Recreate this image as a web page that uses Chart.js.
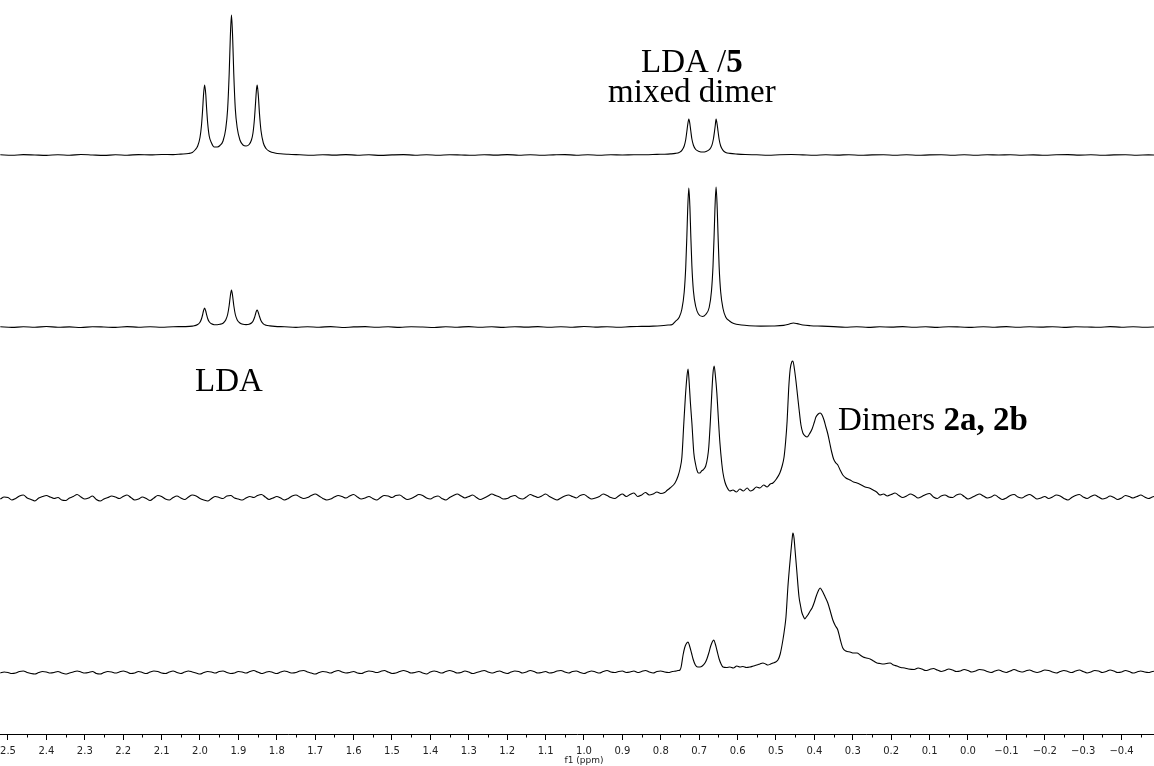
<!DOCTYPE html>
<html lang="en">
<head>
	<meta charset="UTF-8">
	<title>1H NMR stack - LDA / 5</title>
	<script src="https://cdn.jsdelivr.net/npm/chart.js"></script>
	<style>
		html, body { margin: 0; padding: 0; background: #fff; }
		#wrap { width: 1154px; height: 766px; }
	</style>
</head>
<body>
<div id="wrap">
	<canvas id="nmr" width="1154" height="766"></canvas>
</div>

<script>
// ---------------- spectra: [shift in ppm, intensity above own baseline] ----------------

// top trace: LDA triplet + small mixed-dimer doublet
const specTop = [
	[2.52,0.2],[2.49,-0.3],[2.46,0.4],[2.43,0],[2.40,-0.4],[2.37,0.3],[2.34,-0.2],[2.31,0.5],[2.28,0],[2.25,-0.4],
	[2.22,0.2],[2.19,-0.2],[2.16,0.4],[2.13,0.1],[2.10,0.5],[2.07,0.4],
	[2.05,0.9],[2.03,1.5],[2.02,2.5],[2.013,5],[2.006,9],[2.0,17.5],[1.996,30],[1.993,46],[1.991,59],[1.988,70],
	[1.985,61],[1.983,48],[1.98,32],[1.976,19],[1.97,12],[1.963,8],[1.955,8],[1.948,9.5],[1.94,14],[1.933,26],
	[1.928,46],[1.924,81],[1.921,118],[1.918,140],[1.915,118],[1.912,81],[1.908,46],[1.903,27],[1.896,15],[1.888,10],
	[1.88,9],[1.872,10.5],[1.866,15],[1.862,22],[1.858,37],[1.855,54],[1.853,65],[1.851,70],[1.848,59],[1.845,41],
	[1.841,24],[1.835,12],[1.828,6.5],[1.818,3.5],[1.805,2],[1.79,1.2],[1.77,0.7],
	[1.74,0.2],[1.71,-0.3],[1.68,0.3],[1.65,-0.1],[1.62,0.4],[1.59,-0.2],[1.56,0.2],[1.53,-0.4],[1.50,0.1],[1.47,0.4],
	[1.44,-0.2],[1.41,0.2],[1.38,-0.3],[1.35,0.3],[1.32,0],[1.29,-0.3],[1.26,0.3],[1.23,-0.1],[1.20,0.4],[1.17,-0.2],
	[1.14,0.2],[1.11,-0.3],[1.08,0.1],[1.05,0.4],[1.02,-0.2],[0.99,0.2],[0.96,-0.3],[0.93,0.3],[0.90,0],[0.87,0.3],
	[0.84,0.2],[0.81,0.6],[0.79,0.8],
	[0.775,1.1],[0.762,1.6],[0.752,2.6],[0.745,4.7],[0.739,9],[0.735,15.5],[0.732,24],[0.73,30],[0.727,36],[0.724,30.5],
	[0.722,24.5],[0.719,16],[0.715,9.8],[0.709,5.5],[0.7,3.6],[0.691,3],[0.682,3.6],[0.673,5.6],[0.667,9.6],[0.663,16],
	[0.66,24],[0.658,30],[0.656,36],[0.653,30],[0.651,24],[0.648,15.5],[0.644,9],[0.638,4.7],[0.631,2.6],[0.62,1.6],
	[0.60,0.9],[0.58,0.5],
	[0.55,0.2],[0.52,-0.2],[0.49,0.3],[0.46,0.5],[0.43,0.1],[0.40,-0.3],[0.37,0.2],[0.34,-0.1],[0.31,0.3],[0.28,-0.3],
	[0.25,0.1],[0.22,0.3],[0.19,-0.2],[0.16,0.2],[0.13,-0.3],[0.10,0.1],[0.07,0.3],[0.04,-0.2],[0.01,0.2],[-0.02,-0.3],
	[-0.05,0.2],[-0.08,0],[-0.11,0.3],[-0.14,-0.2],[-0.17,0.1],[-0.20,-0.3],[-0.23,0.2],[-0.26,0.4],[-0.29,-0.1],[-0.32,0.2],
	[-0.35,-0.3],[-0.38,0.1],[-0.41,0.3],[-0.44,-0.2],[-0.47,0.1],[-0.49,0]
];

// second trace: mostly mixed dimer
const specSecond = [
	[2.52,0.3],[2.49,-0.4],[2.46,0.2],[2.43,-0.2],[2.40,0.5],[2.37,-0.3],[2.34,0.1],[2.31,-0.5],[2.28,0.3],[2.25,0],
	[2.22,-0.4],[2.19,0.4],[2.16,-0.2],[2.13,0.2],[2.10,-0.3],[2.07,0.3],[2.04,0.4],
	[2.02,0.9],[2.006,2.5],[2.0,4.8],[1.996,8.2],[1.993,12.5],[1.991,16],[1.988,19],[1.985,16],[1.983,12.7],[1.98,8.5],
	[1.976,5.2],[1.97,3.2],[1.963,2.3],[1.955,2.3],[1.948,2.7],[1.94,3.8],[1.933,7],[1.928,12.5],[1.924,21.5],[1.921,31],
	[1.918,37],[1.915,31],[1.912,21.5],[1.908,12.5],[1.903,7],[1.896,4],[1.888,2.7],[1.88,2.4],[1.872,2.8],[1.866,4],
	[1.862,5.8],[1.858,9.5],[1.855,13.5],[1.853,16],[1.851,17],[1.848,14.3],[1.845,10.5],[1.841,6.2],[1.835,3.2],[1.828,1.8],
	[1.818,1.1],[1.805,0.6],
	[1.78,0.2],[1.75,-0.4],[1.72,0.3],[1.69,-0.2],[1.66,0.4],[1.63,-0.5],[1.60,0.1],[1.57,0.4],[1.54,-0.3],[1.51,0.2],
	[1.48,-0.4],[1.45,0.3],[1.42,0],[1.39,-0.5],[1.36,0.3],[1.33,-0.2],[1.30,0.4],[1.27,-0.3],[1.24,0.2],[1.21,-0.4],
	[1.18,0.3],[1.15,-0.1],[1.12,0.4],[1.09,-0.3],[1.06,0.2],[1.03,-0.2],[1.00,0.5],[0.97,-0.1],[0.94,0.3],[0.91,-0.3],
	[0.88,0.4],[0.85,0.6],[0.82,0.9],
	[0.80,1.3],[0.78,2],[0.77,2.6],[0.762,5.6],[0.752,9.7],[0.745,18],[0.739,35],[0.735,60],[0.732,92],[0.73,117],
	[0.727,139],[0.724,118],[0.722,93],[0.719,61],[0.715,36],[0.709,20.5],[0.702,13],[0.6915,10.5],[0.683,12.5],[0.674,19.5],
	[0.668,36],[0.664,61],[0.661,93],[0.659,118],[0.656,140],[0.653,118],[0.651,93],[0.648,60],[0.644,35],[0.638,18.5],
	[0.631,10],[0.621,6],[0.61,3.5],[0.59,2],[0.57,1.3],[0.54,0.9],[0.51,1],[0.48,1.6],[0.465,3],[0.455,4],
	[0.445,3.4],[0.43,2],[0.41,1.3],[0.38,0.9],
	[0.35,0.4],[0.32,-0.2],[0.29,0.3],[0.26,-0.4],[0.23,0.2],[0.20,-0.1],[0.17,0.4],[0.14,-0.3],[0.11,0.2],[0.08,-0.4],
	[0.05,0.3],[0.02,0],[-0.01,-0.4],[-0.04,0.3],[-0.07,-0.2],[-0.10,0.4],[-0.13,-0.3],[-0.16,0.2],[-0.19,-0.1],[-0.22,0.3],
	[-0.25,-0.4],[-0.28,0.2],[-0.31,0],[-0.34,-0.3],[-0.37,0.4],[-0.40,-0.2],[-0.43,0.2],[-0.46,-0.3],[-0.49,0.1]
];

// third trace: mixed dimer + homodimers 2a/2b (noisy)
const specThird = [
	[2.52,-2],[2.51,0],[2.50,-0.5],[2.49,-3],[2.48,-1.5],[2.47,1],[2.46,2],[2.45,-1],[2.44,-2.5],[2.43,-4],
	[2.42,-1],[2.41,0.5],[2.40,1.5],[2.39,0],[2.38,-1.5],[2.37,-0.5],[2.36,-3],[2.35,-3.5],[2.34,-1],[2.33,0.5],
	[2.32,2.5],[2.31,0],[2.30,-2],[2.29,-1],[2.28,1],[2.27,-2.5],[2.26,-4],[2.25,-2],[2.24,-0.5],[2.23,1],
	[2.22,0],[2.21,-1.5],[2.20,0.5],[2.19,2],[2.18,-0.5],[2.17,-3],[2.16,-2],[2.15,0],[2.14,-1.5],[2.13,-3.5],
	[2.12,-1],[2.11,1.5],[2.10,0.5],[2.09,-2],[2.08,-3],[2.07,-0.5],[2.06,1],[2.05,-1],[2.04,-2.5],[2.03,0],
	[2.02,2],[2.01,1],[2.00,-1.5],[1.99,-3],[1.98,-4],[1.97,-1.5],[1.96,0.5],[1.95,-0.5],[1.94,-1.5],[1.93,1],
	[1.92,1.5],[1.91,-1],[1.90,-2],[1.89,-3],[1.88,-1],[1.87,0.5],[1.86,-0.5],[1.85,1.5],[1.84,2.5],[1.83,0],
	[1.82,-2.5],[1.81,-1],[1.80,0.5],[1.79,-1],[1.78,-3],[1.77,-1.5],[1.76,1],[1.75,2],[1.74,0],[1.73,-1.5],
	[1.72,-0.5],[1.71,1.5],[1.70,3],[1.69,1],[1.68,-1.5],[1.67,-3],[1.66,-2],[1.65,0],[1.64,1.5],[1.63,0.5],
	[1.62,-1],[1.61,1],[1.60,2.5],[1.59,0],[1.58,-2],[1.57,-1],[1.56,0.5],[1.55,-1.5],[1.54,-3],[1.53,-0.5],
	[1.52,1.5],[1.51,1],[1.50,-0.5],[1.49,1.5],[1.48,2],[1.47,-0.5],[1.46,-2.5],[1.45,-1.5],[1.44,0.5],[1.43,2.5],
	[1.42,1.5],[1.41,-1],[1.40,-2],[1.39,0],[1.38,1],[1.37,-1.5],[1.36,-3],[1.35,-0.5],[1.34,1.5],[1.33,3],
	[1.32,1],[1.31,-1],[1.30,0.5],[1.29,2],[1.28,-0.5],[1.27,-2.5],[1.26,-1],[1.25,1],[1.24,3],[1.23,1.5],
	[1.22,0],[1.21,-2],[1.20,-1.5],[1.19,0.5],[1.18,1.5],[1.17,-1],[1.16,-2],[1.15,0],[1.14,2.5],[1.13,1],
	[1.12,-0.5],[1.11,1],[1.10,3],[1.09,0.5],[1.08,-1.5],[1.07,-3],[1.06,-1],[1.05,1],[1.04,2],[1.03,0.5],
	[1.02,-1],[1.01,1.5],[1.00,2.5],[0.99,0],[0.98,-2],[0.97,-1],[0.96,0.5],[0.95,3],[0.94,1.5],[0.93,-0.5],
	[0.92,-1.5],[0.91,1],[0.90,3],[0.89,0.5],[0.88,2.5],[0.87,4],[0.86,0.5],[0.85,2],[0.84,4.5],[0.83,2],
	[0.82,3],[0.81,5],[0.80,3.5],[0.79,4.5],
	[0.784,6.5],[0.776,9],[0.763,14],[0.755,21],[0.750,28],[0.745,40],[0.740,74],[0.736,100],[0.732,120],[0.729,128],
	[0.726,114],[0.723,95],[0.719,74],[0.714,44],[0.709,32],[0.706,27],[0.702,24],[0.698,24],[0.694,26],[0.690,27],
	[0.683,31],[0.678,40],[0.675,50],[0.671,75],[0.667,105],[0.664,124],[0.661,131],[0.658,122],[0.654,104],[0.650,78],
	[0.646,54],[0.641,33],[0.638,24],[0.633,15],[0.628,10],[0.620,6],[0.612,7],[0.603,5],[0.594,8],[0.585,6],
	[0.575,9],[0.567,6],[0.560,7],[0.551,10],[0.542,9],[0.532,12],[0.523,10],[0.515,13],[0.508,14],[0.499,18],
	[0.490,24],[0.484,31],[0.479,40],[0.475,55],[0.471,76],[0.467,108],[0.463,128],[0.459,135],[0.456,136],[0.452,128],
	[0.448,116],[0.444,102],[0.440,88],[0.435,72],[0.430,64],[0.424,61],[0.419,60],[0.413,63],[0.406,68],[0.400,75],
	[0.396,80],[0.390,83],[0.385,84],[0.380,82],[0.375,77],[0.370,70],[0.365,63],[0.360,54],[0.355,45],[0.350,38],
	[0.344,34],[0.339,32],[0.333,27],[0.326,22],[0.318,19],[0.307,17],[0.298,15],[0.289,14],[0.278,12],[0.268,10],
	[0.257,9],[0.247,7],[0.238,5],[0.229,2],
	[0.22,3],[0.21,1],[0.20,2.5],[0.19,4],[0.18,1.5],[0.17,-0.5],[0.16,1],[0.15,3],[0.14,1.5],[0.13,-1],
	[0.12,0.5],[0.11,2.5],[0.10,3.5],[0.09,0],[0.08,-1.5],[0.07,1],[0.06,2],[0.05,0],[0.04,-0.5],[0.03,2],
	[0.02,3],[0.01,0.5],[0.00,-2],[-0.01,-0.5],[-0.02,1.5],[-0.03,3],[-0.04,1],[-0.05,-1],[-0.06,0],[-0.07,2],
	[-0.08,-0.5],[-0.09,-2.5],[-0.10,-1],[-0.11,1.5],[-0.12,2.5],[-0.13,0],[-0.14,-1],[-0.15,1],[-0.16,2.5],[-0.17,0.5],
	[-0.18,-2],[-0.19,-1],[-0.20,0.5],[-0.21,-1.5],[-0.22,0],[-0.23,2],[-0.24,1],[-0.25,-1.5],[-0.26,-3],[-0.27,-0.5],
	[-0.28,1.5],[-0.29,2.5],[-0.30,0],[-0.31,-1.5],[-0.32,0.5],[-0.33,2],[-0.34,0],[-0.35,-2],[-0.36,-1],[-0.37,1],
	[-0.38,-0.5],[-0.39,-2.5],[-0.40,-1],[-0.41,1.5],[-0.42,0.5],[-0.43,-1],[-0.44,0.5],[-0.45,2],[-0.46,0],[-0.47,-1.5],
	[-0.48,0],[-0.49,1]
];

// bottom trace: homodimers dominate
const specBottom = [
	[2.52,-1],[2.51,0],[2.50,-0.5],[2.49,-1.5],[2.48,-1],[2.47,0.5],[2.46,1],[2.45,-0.5],[2.44,-1.5],[2.43,-2],
	[2.42,-0.5],[2.41,0.5],[2.40,0],[2.39,-1],[2.38,-0.5],[2.37,0.5],[2.36,-1],[2.35,-2],[2.34,-1],[2.33,0],
	[2.32,1],[2.31,0],[2.30,-1],[2.29,-0.5],[2.28,0.5],[2.27,-1.5],[2.26,-2],[2.25,-0.5],[2.24,0.5],[2.23,0],
	[2.22,-1],[2.21,0],[2.20,1],[2.19,0],[2.18,-1.5],[2.17,-1],[2.16,0.5],[2.15,-0.5],[2.14,-1.5],[2.13,0],
	[2.12,1],[2.11,0.5],[2.10,-1],[2.09,-1.5],[2.08,0],[2.07,1],[2.06,-0.5],[2.05,-1.5],[2.04,0],[2.03,1],
	[2.02,0],[2.01,-1],[2.00,-2],[1.99,-0.5],[1.98,0.5],[1.97,0],[1.96,-1],[1.95,0.5],[1.94,1],[1.93,-0.5],
	[1.92,-1.5],[1.91,-1],[1.90,0.5],[1.89,0],[1.88,-1],[1.87,0.5],[1.86,1.5],[1.85,0],[1.84,-1.5],[1.83,-0.5],
	[1.82,0.5],[1.81,-0.5],[1.80,-1.5],[1.79,0],[1.78,1],[1.77,0],[1.76,-1],[1.75,-0.5],[1.74,1],[1.73,1.5],
	[1.72,0],[1.71,-1],[1.70,-2],[1.69,-0.5],[1.68,0.5],[1.67,0],[1.66,-1],[1.65,0.5],[1.64,1.5],[1.63,0],
	[1.62,-1],[1.61,-0.5],[1.60,0.5],[1.59,-1],[1.58,-1.5],[1.57,0],[1.56,1],[1.55,0.5],[1.54,-0.5],[1.53,0.5],
	[1.52,1.5],[1.51,0],[1.50,-1.5],[1.49,-1],[1.48,0.5],[1.47,1.5],[1.46,0.5],[1.45,-1],[1.44,-0.5],[1.43,0.5],
	[1.42,-1],[1.41,-2],[1.40,0],[1.39,1],[1.38,0],[1.37,-1],[1.36,0.5],[1.35,1.5],[1.34,0.5],[1.33,-1],
	[1.32,-0.5],[1.31,1],[1.30,0],[1.29,-1.5],[1.28,-0.5],[1.27,0.5],[1.26,1.5],[1.25,0],[1.24,-1],[1.23,0],
	[1.22,1],[1.21,-0.5],[1.20,-1.5],[1.19,0],[1.18,1],[1.17,0.5],[1.16,-1],[1.15,0],[1.14,1.5],[1.13,0.5],
	[1.12,-1],[1.11,-0.5],[1.10,0.5],[1.09,-1],[1.08,-0.5],[1.07,1],[1.06,1.5],[1.05,0],[1.04,-1],[1.03,0.5],
	[1.02,1],[1.01,-0.5],[1.00,-1.5],[0.99,0],[0.98,1],[0.97,0],[0.96,-1],[0.95,0.5],[0.94,1.5],[0.93,0],
	[0.92,-0.5],[0.91,0.5],[0.90,1],[0.89,-0.5],[0.88,0],[0.87,1],[0.86,-0.5],[0.85,0.5],[0.84,1.5],[0.83,0],
	[0.82,-1],[0.81,0.5],[0.80,1],[0.79,0],[0.78,-0.5],[0.77,0.5],[0.76,1],[0.755,1.5],
	[0.750,2],[0.747,5],[0.742,17],[0.738,24],[0.734,28],[0.729,30],[0.725,26],[0.720,19],
	[0.716,13],[0.710,7],[0.704,5],[0.698,5],[0.692,6],[0.685,9],[0.680,13],[0.675,19],[0.670,26],[0.666,30],
	[0.662,32],[0.658,28],[0.654,22],[0.648,13],[0.643,8],[0.638,5],[0.629,4.5],[0.620,5],[0.611,4],[0.602,6],
	[0.594,5],[0.586,5.5],[0.577,4.5],[0.568,5],[0.559,6],[0.550,7],[0.542,8],[0.534,9],[0.527,8],[0.521,7],
	[0.514,8],[0.508,9],[0.501,10],[0.495,12],[0.489,18],[0.482,32],[0.477,45],[0.474,55],[0.469,85],[0.465,104],
	[0.461,121],[0.458,133],[0.456,139],[0.453,134],[0.451,125],[0.446,102],[0.440,75],[0.436,66],[0.433,60],[0.428,55],
	[0.425,53],[0.421,55],[0.417,57],[0.411,61],[0.406,64],[0.400,70],[0.396,75],[0.390,81],[0.385,84],[0.381,82],
	[0.378,80],[0.372,75],[0.365,69],[0.358,60],[0.352,52],[0.345,46],[0.339,42],[0.333,33],[0.326,24],[0.318,21],
	[0.307,20],[0.298,19],[0.289,19],[0.281,17],[0.273,15],[0.264,14],[0.255,13],[0.246,11],[0.237,9],[0.229,8.5],
	[0.221,8],[0.212,8.5],[0.203,9],[0.194,7],[0.185,6],[0.175,4.5],[0.165,4],[0.155,3],
	[0.14,2.5],[0.13,4],[0.12,3],[0.11,1.5],[0.10,2.5],[0.09,3.5],[0.08,2],[0.07,0.5],[0.06,1.5],[0.05,3],
	[0.04,2],[0.03,0.5],[0.02,1],[0.01,2.5],[0.00,1.5],[-0.01,0],[-0.02,1],[-0.03,2.5],[-0.04,2],[-0.05,0.5],
	[-0.06,-0.5],[-0.07,1],[-0.08,2],[-0.09,0.5],[-0.10,-0.5],[-0.11,1],[-0.12,2.5],[-0.13,1],[-0.14,0],[-0.15,1],
	[-0.16,2],[-0.17,0.5],[-0.18,-0.5],[-0.19,0.5],[-0.20,2],[-0.21,1.5],[-0.22,0],[-0.23,-1],[-0.24,0.5],[-0.25,1.5],
	[-0.26,0.5],[-0.27,-0.5],[-0.28,1],[-0.29,2],[-0.30,0.5],[-0.31,-1],[-0.32,0],[-0.33,1.5],[-0.34,1],[-0.35,-0.5],
	[-0.36,0.5],[-0.37,2],[-0.38,1],[-0.39,-0.5],[-0.40,0],[-0.41,1.5],[-0.42,0.5],[-0.43,-1],[-0.44,0],[-0.45,1],
	[-0.46,0],[-0.47,-0.5],[-0.48,0.5],[-0.49,1]
];

// ---------------- stacking / drawing ----------------

// spectra top to bottom, with the vertical offset of each baseline on the y scale
const stack = [
	{ spec: specTop,    base: 579 },
	{ spec: specSecond, base: 407 },
	{ spec: specThird,  base: 237 },
	{ spec: specBottom, base: 62 }
];

const datasets = stack.map(s => ({
	data: s.spec.map(p => ({ x: p[0], y: p[1] + s.base })),
	borderColor: '#000',
	borderWidth: 1.1,
	borderJoinStyle: 'round',
	pointRadius: 0,
	fill: false,
	cubicInterpolationMode: 'monotone'
}));

// text labels: pieces of [text, weight], anchored at (ppm, y value)
const notes = [
	{ parts: [['LDA /', 'normal'], ['5', 'bold']],  ppm: 0.719,  at: 662, align: 'center' },
	{ parts: [['mixed dimer', 'normal']],           ppm: 0.719,  at: 632, align: 'center' },
	{ parts: [['LDA', 'normal']],                   ppm: 1.9245, at: 343, align: 'center' },
	{ parts: [['Dimers ', 'normal'], ['2a, 2b', 'bold']], ppm: 0.3385, at: 304, align: 'left' }
];

const decor = {
	id: 'decor',
	afterDraw(chart) {
		const { ctx, chartArea } = chart;
		const x = chart.scales.x, y = chart.scales.y;
		ctx.save();

		// short minor ticks half way between the labelled ones
		ctx.strokeStyle = '#000';
		ctx.lineWidth = 1;
		ctx.beginPath();
		x.ticks.forEach(t => {
			const px = Math.round(x.getPixelForValue(t.value - 0.05)) + 0.5;
			ctx.moveTo(px, chartArea.bottom);
			ctx.lineTo(px, chartArea.bottom + 3.5);
		});
		ctx.stroke();

		// axis name sits under the 1.0 label
		ctx.fillStyle = '#222';
		ctx.font = '9px "DejaVu Sans"';
		ctx.textAlign = 'center';
		ctx.textBaseline = 'alphabetic';
		ctx.fillText('f1 (ppm)', x.getPixelForValue(1.0), chartArea.bottom + 29);

		// peak assignments
		ctx.fillStyle = '#000';
		ctx.textAlign = 'left';
		notes.forEach(n => {
			const fonts = n.parts.map(p => p[1] + ' 33px "Liberation Serif"');
			let w = 0;
			n.parts.forEach((p, i) => { ctx.font = fonts[i]; w += ctx.measureText(p[0]).width; });
			let cx = x.getPixelForValue(n.ppm);
			if (n.align === 'center') cx -= w / 2;
			const cy = y.getPixelForValue(n.at);
			n.parts.forEach((p, i) => {
				ctx.font = fonts[i];
				ctx.fillText(p[0], cx, cy);
				cx += ctx.measureText(p[0]).width;
			});
		});
		ctx.restore();
	}
};

const config = {
	type: 'line',
	data: { datasets: datasets },
	options: {
		responsive: false,
		animation: false,
		devicePixelRatio: 1,
		layout: { padding: 0 },
		plugins: { legend: { display: false }, tooltip: { enabled: false } },
		scales: {
			x: {
				type: 'linear',
				reverse: true,
				min: -0.4844,
				max: 2.5208,
				ticks: {
					stepSize: 0.1,
					includeBounds: false,
					autoSkip: false,
					maxRotation: 0,
					padding: 5,
					color: '#222',
					font: { family: 'DejaVu Sans', size: 10 },
					callback: v => v.toFixed(1).replace('-', '\u2212')
				},
				grid: { display: true, drawOnChartArea: false, drawTicks: true, tickLength: 6, tickColor: '#000', tickWidth: 1 },
				border: { display: true, color: '#000', width: 1 },
				// let the axis run edge to edge; fixed strip height under the plot
				afterFit: s => { s.paddingLeft = 0; s.paddingRight = 0; s.height = 32; }
			},
			y: { display: false, min: 0, max: 734 }
		}
	},
	plugins: [decor]
};

const chart = new Chart(document.getElementById('nmr').getContext('2d'), config);
</script>
</body>
</html>
